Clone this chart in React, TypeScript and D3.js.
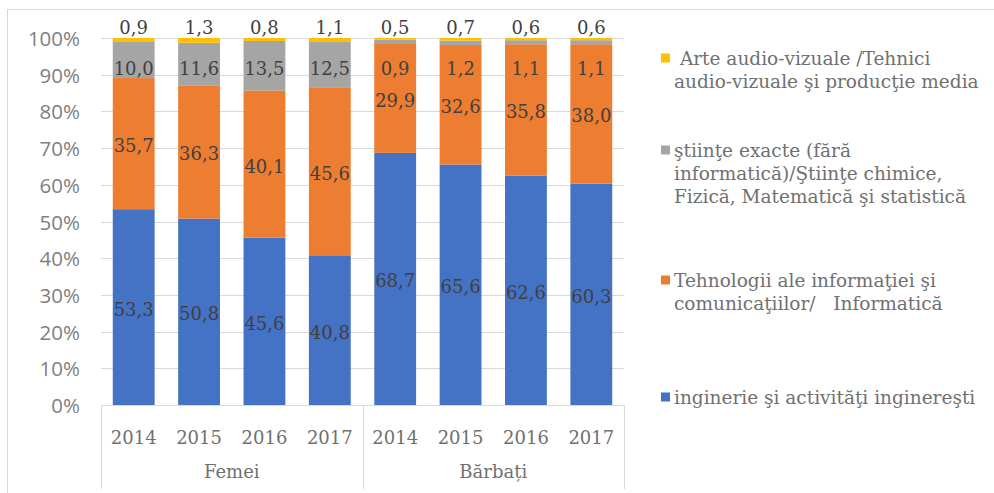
import React, { useEffect, useRef } from "react";
import * as d3 from "d3";

const years = ["2014", "2015", "2016", "2017", "2014", "2015", "2016", "2017"];
const groups = ["Femei", "Bărbați"];
const inginerie = [53.3, 50.8, 45.6, 40.8, 68.7, 65.6, 62.6, 60.3];
const tehnologii = [35.7, 36.3, 40.1, 45.6, 29.9, 32.6, 35.8, 38.0];
const stiinte = [10.0, 11.6, 13.5, 12.5, 0.9, 1.2, 1.1, 1.1];
const arte = [0.9, 1.3, 0.8, 1.1, 0.5, 0.7, 0.6, 0.6];
const yTicks = [0, 0.1, 0.2, 0.3, 0.4, 0.5, 0.6, 0.7, 0.8, 0.9, 1];

const seriesKeys = ["inginerie", "tehnologii", "stiinte", "arte"];
const colors: Record<string, string> = {
  inginerie: "#4472C4",
  tehnologii: "#ED7D31",
  stiinte: "#A5A5A5",
  arte: "#FFC000",
};
const legendItems = [
  { key: "arte", lines: [" Arte audio-vizuale /Tehnici", "audio-vizuale şi producţie media"] },
  { key: "stiinte", lines: ["ştiinţe exacte (fără", "informatică)/Ştiinţe chimice,", "Fizică, Matematică şi statistică"] },
  { key: "tehnologii", lines: ["Tehnologii ale informaţiei şi", "comunicaţiilor/   Informatică"] },
  { key: "inginerie", lines: ["inginerie şi activităţi inginereşti"] },
];

const W = 994;
const H = 493;
const SERIF = "'DejaVu Serif', serif";
const SANS = "'Open Sans', 'Liberation Sans', sans-serif";

export default function App() {
  const ref = useRef<SVGSVGElement>(null);

  useEffect(() => {
    document.body.style.margin = "0";
    const svg = d3.select(ref.current);
    svg.selectAll("*").remove();

    const x0 = 101, x1 = 624, yTop = 38, yBot = 405;
    const idx = years.map((_, i) => i);
    const x = d3.scaleBand<number>().domain(idx).range([x0, x1]).paddingInner(0.36).paddingOuter(0.18);
    const y = d3.scaleLinear().domain([0, 1]).range([yBot, yTop]);

    const table = idx.map((i) => ({
      i,
      inginerie: inginerie[i],
      tehnologii: tehnologii[i],
      stiinte: stiinte[i],
      arte: arte[i],
    }));
    const stack = d3.stack<any>().keys(seriesKeys).offset(d3.stackOffsetExpand);
    const stacked = stack(table);

    // chart border
    svg.append("line").attr("x1", 7).attr("x2", W).attr("y1", 9.5).attr("y2", 9.5).attr("stroke", "#D9D9D9");
    svg.append("line").attr("x1", 7.5).attr("x2", 7.5).attr("y1", 9).attr("y2", H).attr("stroke", "#D9D9D9");

    // gridlines
    svg.append("g").selectAll("line").data(yTicks.slice(1)).join("line")
      .attr("x1", x0).attr("x2", x1)
      .attr("y1", (d) => Math.round(y(d)) + 0.5).attr("y2", (d) => Math.round(y(d)) + 0.5)
      .attr("stroke", "#D9D9D9");

    // y labels
    svg.append("g").selectAll("text").data(yTicks).join("text")
      .attr("x", 80).attr("y", (d) => y(d)).attr("text-anchor", "end").attr("dominant-baseline", "central")
      .attr("font-family", SANS).attr("font-size", 20.5).attr("fill", "#808080")
      .text((d) => `${Math.round(d * 100)}%`);

    // bars
    const fmt = (v: number) => v.toFixed(1).replace(".", ",");
    stacked.forEach((s) => {
      const key = s.key;
      svg.append("g").selectAll("rect").data(s).join("rect")
        .attr("x", (d: any) => x(d.data.i)!)
        .attr("width", x.bandwidth())
        .attr("y", (d: any) => y(d[1]))
        .attr("height", (d: any) => y(d[0]) - y(d[1]))
        .attr("fill", colors[key]);
    });

    // labels
    stacked.forEach((s) => {
      const key = s.key;
      svg.append("g").selectAll("text").data(s).join("text")
        .attr("x", (d: any) => x(d.data.i)! + x.bandwidth() / 2)
        .attr("y", (d: any) => {
          const c = (y(d[0]) + y(d[1])) / 2;
          if (key === "arte") return y(d[1]) - 11;
          if (key === "stiinte") return Math.max(c, y(0.918));
          return c + 2;
        })
        .attr("text-anchor", "middle").attr("dominant-baseline", "central")
        .attr("font-family", SERIF).attr("font-size", 18).attr("fill", "#404040")
        .text((d: any) => fmt(d.data[key]));
    });

    // x axis
    const axisC = "#D9D9D9";
    svg.append("line").attr("x1", x0).attr("x2", x1).attr("y1", yBot + 0.5).attr("y2", yBot + 0.5).attr("stroke", axisC);
    const mid = (x0 + x1) / 2;
    [x0, mid, x1].forEach((xx) => {
      svg.append("line").attr("x1", Math.round(xx) + 0.5).attr("x2", Math.round(xx) + 0.5)
        .attr("y1", yBot).attr("y2", 489).attr("stroke", axisC);
    });
    svg.append("g").selectAll("text").data(idx).join("text")
      .attr("x", (i) => x(i)! + x.bandwidth() / 2).attr("y", 437)
      .attr("text-anchor", "middle").attr("dominant-baseline", "central")
      .attr("font-family", SERIF).attr("font-size", 18).attr("fill", "#707070")
      .text((i) => years[i]);
    svg.append("g").selectAll("text").data(groups).join("text")
      .attr("x", (_, g) => x0 + (x1 - x0) * (g + 0.5) / 2).attr("y", 471)
      .attr("text-anchor", "middle").attr("dominant-baseline", "central")
      .attr("font-family", SERIF).attr("font-size", 18).attr("fill", "#707070")
      .text((d) => d);

    // legend
    const firstLineY = [58, 150, 280, 397];
    const lg = svg.append("g");
    legendItems.forEach((item, k) => {
      const y0 = firstLineY[k];
      lg.append("rect").attr("x", 661).attr("y", y0 - 4.5).attr("width", 9).attr("height", 9).attr("fill", colors[item.key]);
      item.lines.forEach((ln, j) => {
        lg.append("text").attr("x", 674).attr("y", y0 + j * 23)
          .attr("dominant-baseline", "central").attr("xml:space", "preserve")
          .style("white-space", "pre")
          .attr("font-family", SERIF).attr("font-size", 18.5).attr("fill", "#707070")
          .text(ln);
      });
    });
  }, []);

  return (
    <svg ref={ref} width={W} height={H} style={{ position: "absolute", left: 0, top: 0, background: "#fff" }} />
  );
}
